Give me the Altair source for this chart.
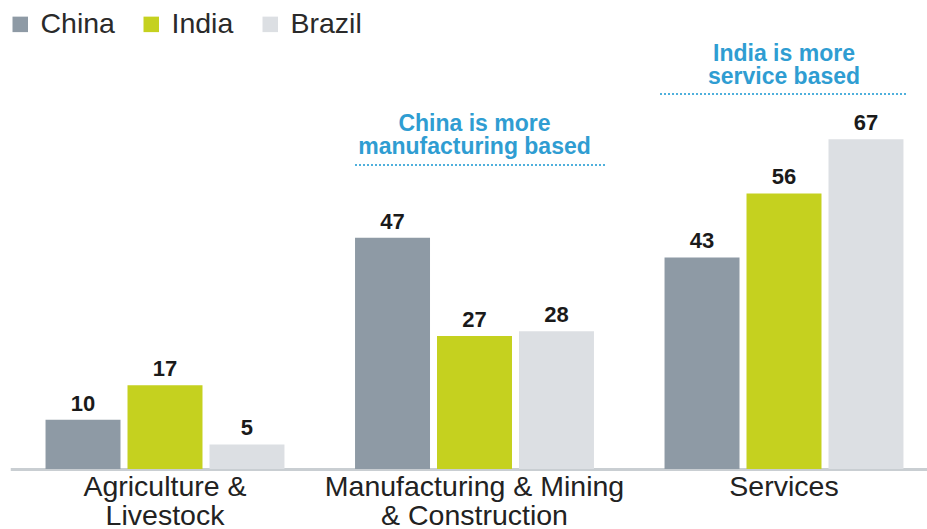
import altair as alt
import pandas as pd

# ---- data ----
sectors = ["Agriculture & Livestock", "Manufacturing & Mining & Construction", "Services"]
countries = ["China", "India", "Brazil"]
china = [10, 47, 43]
india = [17, 27, 56]
brazil = [5, 28, 67]
country_colors = ["#8e9aa5", "#c5d11f", "#dcdfe3"]

ann_sectors = ["Manufacturing & Mining & Construction", "Services"]
ann_texts = ["China is more\nmanufacturing based", "India is more\nservice based"]

rows = []
for i, s in enumerate(sectors):
    for c, vals in zip(countries, [china, india, brazil]):
        rows.append({"sector": s, "country": c, "value": vals[i]})
df = pd.DataFrame(rows)
ann_df = pd.DataFrame({"sector": ann_sectors, "text": ann_texts})

FONT = "Liberation Sans"
BLUE = "#2f9dd2"

label_expr = (
    "datum.label == 'Agriculture & Livestock' ? ['Agriculture &', 'Livestock'] : "
    "datum.label == 'Manufacturing & Mining & Construction' ? ['Manufacturing & Mining', '& Construction'] : "
    "datum.label"
)

x_enc = alt.X(
    "sector:N",
    sort=sectors,
    scale=alt.Scale(range=[10.25, 938.75], paddingInner=0.228, paddingOuter=0.114),
    axis=alt.Axis(
        title=None, labelAngle=0, ticks=False, tickSize=0, labelPadding=3,
        labelFontSize=28.5, labelFont=FONT, labelColor="#222222",
        labelLineHeight=29, labelLimit=0, labelExpr=label_expr,
        domainColor="#c9ced2", domainWidth=3, grid=False,
    ),
)
xo_enc = alt.XOffset("country:N", sort=countries, scale=alt.Scale(paddingInner=0.0854, paddingOuter=0))
y_enc = alt.Y("value:Q", scale=alt.Scale(domain=[0, 95.3], nice=False), axis=None)

base = alt.Chart(df)

bars = base.mark_bar().encode(
    x=x_enc,
    xOffset=xo_enc,
    y=y_enc,
    color=alt.Color(
        "country:N",
        sort=countries,
        scale=alt.Scale(domain=countries, range=country_colors),
        legend=alt.Legend(
            orient="none", legendX=6, legendY=10, direction="horizontal",
            title=None, symbolType="square", symbolSize=240, symbolStrokeWidth=0,
            symbolOpacity=1, labelFontSize=28.5, labelFont=FONT, labelColor="#2a2a2a",
            labelOffset=6, columnPadding=22, padding=0,
        ),
    ),
)

values = base.mark_text(
    font=FONT, fontSize=22, fontWeight="bold", color="#1a1a1a",
    baseline="alphabetic", align="center", dy=-9,
).encode(
    x=alt.X("sector:N", sort=sectors),
    xOffset=alt.XOffset("country:N", sort=countries),
    y=alt.Y("value:Q"),
    text=alt.Text("value:Q"),
)

ann_style = dict(
    font=FONT, fontSize=23, fontWeight="bold", color=BLUE,
    baseline="alphabetic", align="center", lineBreak="\n", lineHeight=23,
)
ann1 = alt.Chart(ann_df).transform_filter(
    alt.datum.sector == ann_sectors[0]
).mark_text(**ann_style).encode(
    x=alt.X("sector:N", sort=sectors), y=alt.value(131), text="text:N"
)
ann2 = alt.Chart(ann_df).transform_filter(
    alt.datum.sector == ann_sectors[1]
).mark_text(**ann_style).encode(
    x=alt.X("sector:N", sort=sectors), y=alt.value(61), text="text:N"
)

rule_style = dict(color="#4fb0dc", strokeWidth=2, strokeDash=[2, 2])
rule1 = alt.Chart(ann_df).transform_filter(
    alt.datum.sector == ann_sectors[0]
).mark_rule(**rule_style).encode(x=alt.value(355), x2=alt.value(605), y=alt.value(165))
rule2 = alt.Chart(ann_df).transform_filter(
    alt.datum.sector == ann_sectors[1]
).mark_rule(**rule_style).encode(x=alt.value(660), x2=alt.value(908), y=alt.value(94))

chart = alt.layer(bars, values, ann1, ann2, rule1, rule2).properties(
    width=927, height=469,
    autosize=alt.AutoSizeParams(type="none"),
    padding={"left": 0, "top": 0, "right": 0, "bottom": 60},
    background="white",
).configure_view(stroke=None)

chart.save("out.html", embed_options={"renderer": "svg", "actions": False})
